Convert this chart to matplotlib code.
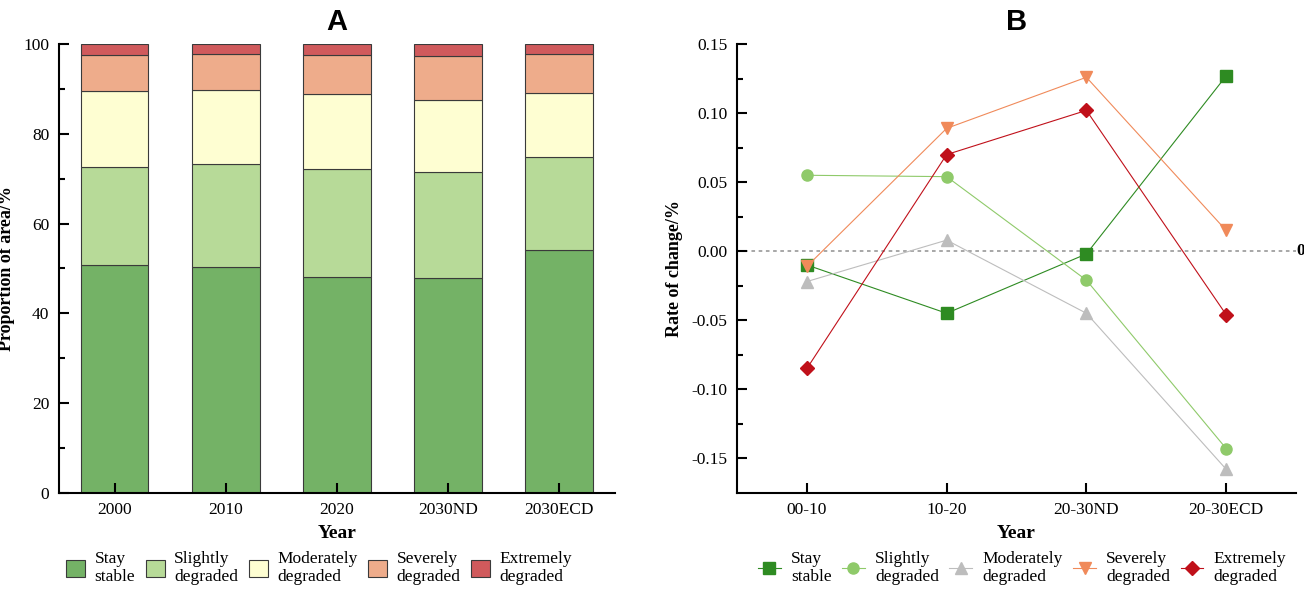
import numpy as np
import matplotlib
matplotlib.use("Agg")
import matplotlib.pyplot as plt
import matplotlib.transforms as mtransforms

plt.rcParams['font.family'] = ['Liberation Serif', 'DejaVu Serif']

# data
years = ["2000", "2010", "2020", "2030ND", "2030ECD"]
classes = ["Stay\nstable", "Slightly\ndegraded", "Moderately\ndegraded",
           "Severely\ndegraded", "Extremely\ndegraded"]
stay = [50.8, 50.3, 48.1, 47.9, 54.2]
slight = [21.8, 22.9, 24.1, 23.7, 20.7]
moderate = [16.9, 16.5, 16.7, 15.9, 14.1]
severe = [8.0, 8.0, 8.6, 9.8, 8.7]
extreme = [2.5, 2.3, 2.5, 2.7, 2.3]

periods = ["00-10", "10-20", "20-30ND", "20-30ECD"]
rate_stay = [-0.010, -0.045, -0.002, 0.127]
rate_slight = [0.055, 0.054, -0.021, -0.143]
rate_moderate = [-0.022, 0.008, -0.045, -0.158]
rate_severe = [-0.011, 0.089, 0.126, 0.015]
rate_extreme = [-0.085, 0.070, 0.102, -0.046]

bar_colors = ["#74b266", "#b7da98", "#fefed2", "#eeac8b", "#d05a5c"]
line_colors = ["#2e8b22", "#8fca6a", "#bdbdbd", "#f08a5a", "#c0101a"]
markers = ["s", "o", "^", "v", "D"]

fig = plt.figure(figsize=(13.04, 5.91), dpi=100)
axA = fig.add_axes([0.0452, 0.1663, 0.4264, 0.759])
axB = fig.add_axes([0.5652, 0.1663, 0.4287, 0.759])

# ---- panel A: stacked bars
x = np.arange(len(years))
bottom = np.zeros(len(years))
for vals, col, lab in zip([stay, slight, moderate, severe, extreme], bar_colors, classes):
    axA.bar(x, vals, bottom=bottom, width=0.61, color=col,
            edgecolor="#3a3a3a", linewidth=0.8, label=lab)
    bottom += np.array(vals)

axA.set_xlim(-0.5, 4.5)
axA.set_ylim(0, 100)
axA.set_xticks(x)
axA.set_xticklabels(years)
axA.set_yticks(range(0, 101, 20))
axA.set_yticks(range(10, 100, 20), minor=True)
axA.set_ylabel("Proportion of area/%", fontsize=13, fontweight="bold", labelpad=6)
axA.set_xlabel("Year", fontsize=14, fontweight="bold", labelpad=5)
axA.set_title("A", fontsize=21, fontweight="bold", family="Liberation Sans", pad=10)
axA.legend(ncol=5, loc="upper center", bbox_to_anchor=(0.468, -0.13), frameon=False,
           fontsize=12.5, handlelength=1.1, handleheight=1.1, handletextpad=0.55,
           columnspacing=0.6, borderaxespad=0, borderpad=0)

# ---- panel B: rate of change lines
xp = np.arange(len(periods))
axB.axhline(0, color="#a0a0a0", linestyle=(0, (2, 2)), linewidth=1.3, zorder=1)
for vals, col, mk, lab in zip([rate_stay, rate_slight, rate_moderate, rate_severe, rate_extreme],
                              line_colors, markers, classes):
    ms = 7 if mk == "D" else 8
    axB.plot(xp, vals, color=col, marker=mk, markersize=ms, linewidth=0.8, label=lab,
             zorder=3)

axB.set_xlim(-0.5, 3.5)
axB.set_ylim(-0.175, 0.15)
axB.set_xticks(xp)
axB.set_xticklabels(periods)
axB.set_yticks(np.arange(-0.15, 0.151, 0.05))
axB.set_yticks(np.arange(-0.125, 0.15, 0.05), minor=True)
axB.set_yticklabels([f"{v:.2f}" for v in np.arange(-0.15, 0.151, 0.05)])
axB.set_ylabel("Rate of change/%", fontsize=13, fontweight="bold", labelpad=6)
axB.set_xlabel("Year", fontsize=14, fontweight="bold", labelpad=5)
axB.set_title("B", fontsize=21, fontweight="bold", family="Liberation Sans", pad=10)
trans = mtransforms.blended_transform_factory(axB.transAxes, axB.transData)
axB.text(1.0, 0, "0", transform=trans, ha="left", va="center",
         fontsize=12.5, fontweight="bold")
axB.legend(ncol=5, loc="upper center", bbox_to_anchor=(0.51, -0.13), frameon=False,
           fontsize=12.5, handlelength=1.3, handletextpad=0.6, columnspacing=0.6,
           borderaxespad=0, borderpad=0)

for ax in (axA, axB):
    ax.spines["top"].set_visible(False)
    ax.spines["right"].set_visible(False)
    ax.spines["left"].set_linewidth(1.5)
    ax.spines["bottom"].set_linewidth(1.5)
    ax.tick_params(axis="both", which="major", direction="in", length=7, width=1.5,
                   labelsize=12.5, pad=7)
    ax.tick_params(axis="both", which="minor", direction="in", length=4, width=1.5)
    ax.tick_params(axis="x", which="minor", bottom=False)

fig.savefig("out.png", dpi=100)
